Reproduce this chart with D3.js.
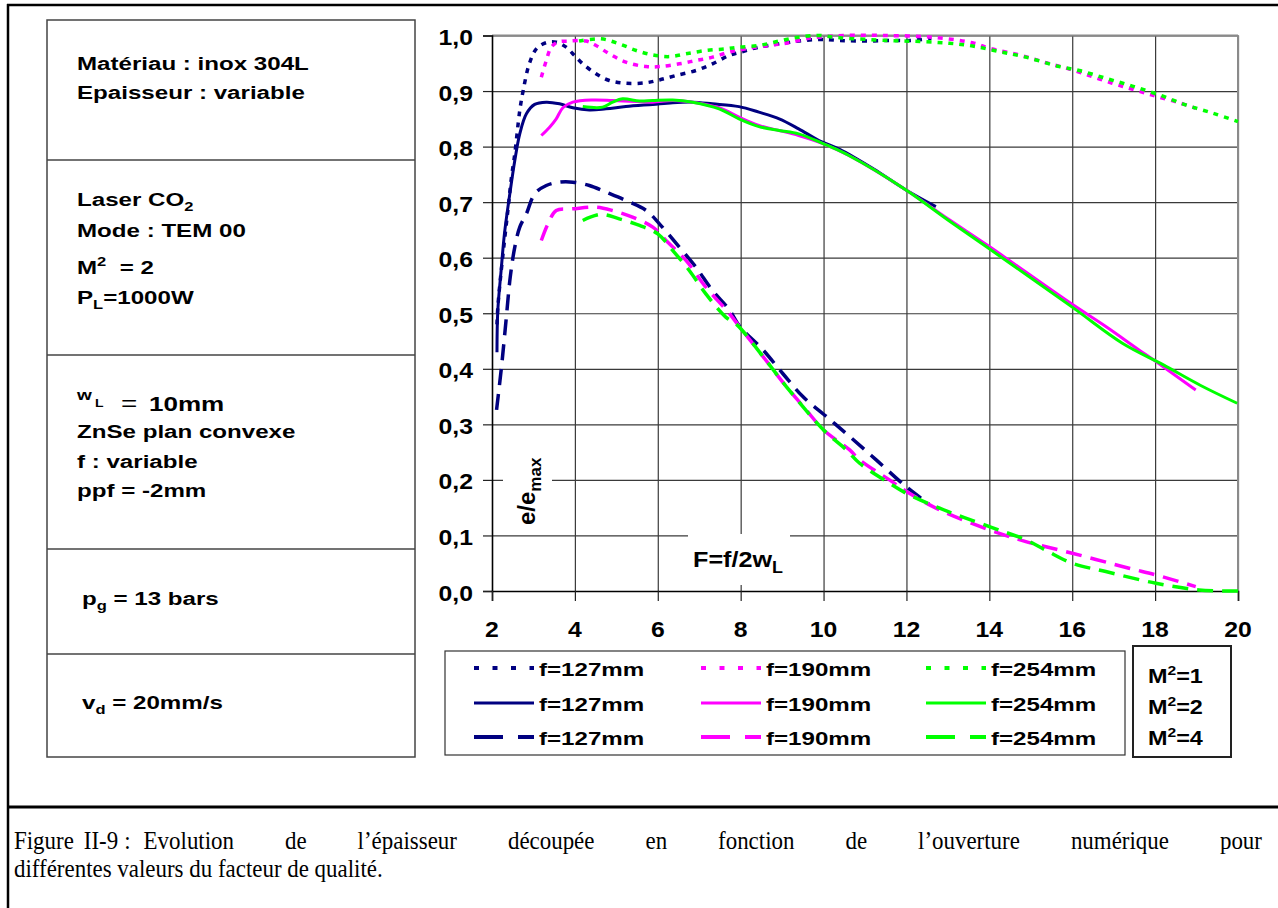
<!DOCTYPE html>
<html>
<head>
<meta charset="utf-8">
<script src="https://cdn.jsdelivr.net/npm/d3@7"></script>
<style>
  body { margin: 0; background: #fff; }
  text { white-space: pre; }
</style>
</head>
<body>
<svg id="chart"></svg>
<script>
// ---- data (F = f/2wL, e/emax) ----

const xTicks = [2, 4, 6, 8, 10, 12, 14, 16, 18, 20];
const yTicks = [0, 0.1, 0.2, 0.3, 0.4, 0.5, 0.6, 0.7, 0.8, 0.9, 1.0];

const focals = ["f=127mm", "f=190mm", "f=254mm"];
const qualities = ["1", "2", "4"];
const colors = ["#000080", "#ff00ff", "#00ff00"];

// M2 = 1 (dotted)
const m1f127 = [[2.12,0.48],[2.14,0.51],[2.2,0.56],[2.3,0.63],[2.39,0.69],[2.47,0.745],[2.55,0.787],[2.67,0.865],[2.75,0.90],[2.9,0.949],[3.07,0.976],[3.3,0.987],[3.55,0.988],[3.79,0.979],[3.99,0.964],[4.19,0.949],[4.51,0.931],[4.83,0.919],[5.23,0.914],[5.72,0.915],[6.04,0.92],[6.44,0.928],[6.92,0.937],[7.32,0.949],[7.72,0.964],[8.0,0.97],[8.44,0.979],[8.93,0.985],[9.4,0.99],[9.9,0.993],[10.4,0.991],[11.0,0.99],[11.6,0.991],[12.1,0.991],[12.6,0.995]];
const m1f190 = [[3.19,0.925],[3.31,0.955],[3.43,0.979],[3.59,0.988],[3.87,0.99],[4.27,0.99],[4.51,0.982],[4.83,0.967],[5.23,0.952],[5.72,0.944],[6.04,0.944],[6.52,0.949],[6.92,0.955],[7.32,0.961],[7.72,0.97],[8.12,0.976],[8.68,0.982],[9.09,0.986],[9.57,0.994],[9.89,0.997],[10.5,1.0],[11.5,1.0],[12.6,0.997],[13.59,0.987],[14.0,0.977],[14.72,0.965],[15.37,0.951],[16.0,0.938],[16.48,0.926],[16.97,0.914],[17.37,0.905],[17.78,0.896],[18.1,0.889],[18.58,0.879],[18.98,0.869]];
const m1f254 = [[4.1,0.99],[4.63,0.994],[5.07,0.985],[5.48,0.973],[5.88,0.965],[6.28,0.962],[6.68,0.967],[7.16,0.973],[7.64,0.976],[7.96,0.979],[8.44,0.982],[8.93,0.99],[9.4,0.997],[9.89,1.0],[10.39,0.996],[11.59,0.991],[12.39,0.989],[13.04,0.986],[13.6,0.981],[14.24,0.971],[14.88,0.961],[15.69,0.944],[16.17,0.937],[16.81,0.923],[17.45,0.909],[18.1,0.893],[18.74,0.875],[19.4,0.86],[20,0.845]];

// M2 = 2 (solid)
const m2f127 = [[2.12,0.43],[2.14,0.505],[2.22,0.577],[2.3,0.643],[2.43,0.715],[2.55,0.775],[2.67,0.823],[2.83,0.859],[3.03,0.876],[3.31,0.88],[3.63,0.877],[3.95,0.87],[4.35,0.866],[4.75,0.868],[5.23,0.872],[5.88,0.876],[6.36,0.879],[6.84,0.88],[7.32,0.877],[7.96,0.872],[8.44,0.862],[8.93,0.85],[9.4,0.832],[9.89,0.811],[10.39,0.795],[11.2,0.76],[11.99,0.722],[12.71,0.692]];
const m2f190 = [[3.19,0.82],[3.39,0.835],[3.55,0.85],[3.71,0.87],[3.95,0.88],[4.43,0.884],[4.91,0.883],[5.48,0.881],[5.88,0.88],[6.36,0.883],[6.84,0.88],[7.48,0.87],[7.96,0.853],[8.44,0.838],[8.93,0.829],[9.4,0.82],[10.0,0.805],[10.61,0.784],[11.99,0.722],[13.0,0.67],[14.0,0.62],[16.0,0.516],[16.81,0.476],[17.61,0.434],[18.02,0.413],[18.98,0.362]];
const m2f254 = [[4.19,0.872],[4.67,0.871],[4.91,0.88],[5.15,0.886],[5.56,0.882],[5.88,0.883],[6.36,0.884],[6.84,0.88],[7.48,0.868],[7.96,0.85],[8.44,0.836],[8.93,0.829],[9.4,0.823],[10.0,0.805],[10.61,0.784],[11.99,0.722],[13.0,0.668],[14.0,0.616],[16.0,0.511],[17.21,0.446],[18.2,0.407],[19.1,0.37],[19.98,0.338]];

// M2 = 4 (dashed)
const m4f127 = [[2.11,0.326],[2.23,0.404],[2.34,0.488],[2.44,0.565],[2.55,0.619],[2.67,0.655],[2.83,0.679],[3.03,0.715],[3.31,0.73],[3.63,0.736],[3.95,0.736],[4.35,0.73],[4.75,0.718],[5.23,0.703],[5.72,0.685],[6.04,0.661],[6.52,0.619],[6.92,0.583],[7.32,0.541],[7.72,0.507],[7.98,0.476],[8.54,0.434],[9.01,0.392],[9.5,0.35],[10.07,0.314],[10.6,0.28],[11.27,0.236],[11.99,0.188],[12.55,0.156]];
const m4f190 = [[3.19,0.631],[3.35,0.661],[3.55,0.685],[3.95,0.688],[4.51,0.691],[4.91,0.685],[5.39,0.673],[5.88,0.655],[6.2,0.631],[6.68,0.595],[7.16,0.547],[7.72,0.5],[7.98,0.475],[8.54,0.422],[9.1,0.368],[9.58,0.326],[10.0,0.29],[10.63,0.254],[10.87,0.236],[11.59,0.2],[12.07,0.176],[12.8,0.146],[14.0,0.11],[14.88,0.089],[16.0,0.068],[17.37,0.041],[18.02,0.029],[18.98,0.008]];
const m4f254 = [[4.19,0.667],[4.63,0.678],[5.07,0.67],[5.56,0.658],[6.0,0.643],[6.36,0.613],[6.76,0.577],[7.16,0.535],[7.64,0.493],[7.9,0.48],[8.54,0.422],[9.1,0.368],[10.0,0.29],[10.55,0.254],[10.87,0.23],[11.59,0.194],[11.99,0.176],[12.8,0.149],[14.0,0.116],[14.88,0.092],[15.37,0.073],[16.0,0.05],[16.81,0.035],[18.02,0.014],[19.06,0.002],[20,0.0]];

const seriesByM2 = [[m1f127, m1f190, m1f254], [m2f127, m2f190, m2f254], [m4f127, m4f190, m4f254]];

// line styles per M2 (chart / legend)
const dashChart = ["5,6", null, "16,9"];
const dashLegend = ["5,13.5", null, "29,15"];
const widthChart = [3.5, 3, 3.5];

const captionLabel = ["Figure", "II-9", ":"];
const caption1 = "Evolution de l’épaisseur découpée en fonction de l’ouverture numérique pour";
const caption2 = "différentes valeurs du facteur de qualité.";

// ---- page ----

const W = 1278, H = 908;
const svg = d3.select("#chart").attr("width", W).attr("height", H);
const SANS = "'Liberation Sans', Arial, sans-serif";

// text with horizontal stretch, parts: string or [string, shift, size, weight]
function rich(parent, x, y, parts, size, sx, anchor) {
  const t = parent.append("text")
      .attr("transform", `translate(${x},${y}) scale(${sx},1)`)
      .attr("font-family", SANS)
      .attr("font-size", size)
      .attr("font-weight", "bold")
      .attr("text-anchor", anchor || "start");
  let cur = 0;
  parts.forEach(p => {
    const [s, shift, fs, fw] = typeof p === "string" ? [p, 0, size, "bold"] : p;
    t.append("tspan").attr("dy", shift - cur).attr("font-size", fs || size)
      .attr("font-weight", fw || "bold").text(s);
    cur = shift;
  });
  return t;
}

// outer frame
svg.append("line").attr("x1", 8).attr("x2", 8).attr("y1", 4).attr("y2", H).attr("stroke", "#000").attr("stroke-width", 2.5);
svg.append("line").attr("x1", 7).attr("x2", W).attr("y1", 5).attr("y2", 5).attr("stroke", "#000").attr("stroke-width", 2.5);
svg.append("line").attr("x1", 7).attr("x2", W).attr("y1", 807).attr("y2", 807).attr("stroke", "#000").attr("stroke-width", 3);

// left info table
const panel = svg.append("g");
const rows = [20, 160, 355, 549, 654, 757];
panel.append("rect").attr("x", 47).attr("y", 20).attr("width", 368).attr("height", 737)
    .attr("fill", "none").attr("stroke", "#444").attr("stroke-width", 1.5);
rows.slice(1, -1).forEach(r => panel.append("line").attr("x1", 47).attr("x2", 415)
    .attr("y1", r).attr("y2", r).attr("stroke", "#444").attr("stroke-width", 1.5));

const PS = 19, PX = 1.27;
rich(panel, 77, 70, ["Matériau : inox 304L"], PS, PX);
rich(panel, 77, 99, ["Epaisseur : variable"], PS, PX);
rich(panel, 77, 206, ["Laser CO", ["2", 5, 13]], PS, PX);
rich(panel, 77, 237, ["Mode : TEM 00"], PS, PX);
rich(panel, 77, 274, ["M", ["2", -8, 13], ["  = 2", 0]], PS, PX);
rich(panel, 77, 304, ["P", ["L", 5, 13], ["=1000W", 0]], PS, PX);
rich(panel, 77, 400, ["w"], 15, PX);
rich(panel, 95, 407, ["L"], 11, PX);
rich(panel, 121, 411, [["=", 0, 22, "normal"]], 22, PX);
rich(panel, 149, 411, ["10mm"], 20.5, PX);
rich(panel, 77, 438, ["ZnSe plan convexe"], PS, PX);
rich(panel, 77, 468, ["f : variable"], PS, PX);
rich(panel, 77, 497, ["ppf = -2mm"], PS, PX);
rich(panel, 82, 605, ["p", ["g", 5, 13], [" = 13 bars", 0]], PS, PX);
rich(panel, 82, 709, ["v", ["d", 5, 13], [" = 20mm/s", 0]], PS, PX);

// ---- chart ----

const x = d3.scaleLinear().domain([2, 20]).range([492, 1238]);
const y = d3.scaleLinear().domain([0, 1]).range([591, 35.5]);

const grid = svg.append("g");
grid.append("g").attr("transform", `translate(0,${y(0)})`)
    .call(d3.axisBottom(x).tickValues(xTicks.slice(1)).tickSize(-(y(0) - y(1))).tickFormat(""))
    .call(g => g.select(".domain").remove())
    .call(g => g.selectAll("line").attr("stroke", "#3a3a3a").attr("stroke-width", 1.2));
grid.append("g").attr("transform", `translate(${x(2)},0)`)
    .call(d3.axisLeft(y).tickValues(yTicks.slice(1)).tickSize(-(x(20) - x(2))).tickFormat(""))
    .call(g => g.select(".domain").remove())
    .call(g => g.selectAll("line").attr("stroke", "#3a3a3a").attr("stroke-width", 1.2));
// plot border top / right in grey
grid.append("line").attr("x1", x(2)).attr("x2", x(20)).attr("y1", y(1)).attr("y2", y(1)).attr("stroke", "#8a8a8a").attr("stroke-width", 2);
grid.append("line").attr("x1", x(20)).attr("x2", x(20)).attr("y1", y(1)).attr("y2", y(0)).attr("stroke", "#8a8a8a").attr("stroke-width", 2);

// axes
const fmt = d => d3.format(".1f")(d).replace(".", ",");
const yAxis = svg.append("g").attr("transform", `translate(${x(2)},0)`)
    .call(d3.axisLeft(y).tickValues(yTicks).tickSize(9).tickFormat(""));
yAxis.selectAll("line").attr("stroke", "#222").attr("stroke-width", 1.2);
yAxis.select(".domain").attr("stroke", "#000").attr("stroke-width", 1.6);
const xAxis = svg.append("g").attr("transform", `translate(0,${y(0)})`)
    .call(d3.axisBottom(x).tickValues(xTicks).tickSize(10).tickFormat(""));
xAxis.selectAll("line").attr("stroke", "#222").attr("stroke-width", 1.2);
xAxis.select(".domain").attr("stroke", "#000").attr("stroke-width", 1.6);

yTicks.forEach(v => rich(svg, 473, y(v) + 9.5, [fmt(v)], 22.5, 1.1, "end"));
xTicks.forEach(v => rich(svg, x(v), 637, [String(v)], 22.5, 1.1, "middle"));

// axis titles on white patches
svg.append("rect").attr("x", 503).attr("y", 432).attr("width", 49).attr("height", 98).attr("fill", "#fff");
svg.append("text").attr("transform", "translate(535,525) rotate(-90)")
    .attr("font-family", SANS).attr("font-weight", "bold").attr("font-size", 24)
    .call(t => {
      t.append("tspan").text("e/e");
      t.append("tspan").attr("dy", 6).attr("font-size", 17).text("max");
    });
svg.append("rect").attr("x", 688).attr("y", 534).attr("width", 102).attr("height", 51).attr("fill", "#fff");
rich(svg, 693, 567, ["F=f/2w", ["L", 6, 16]], 22.5, 1.12);

// curves
const line = d3.line().x(d => x(d[0])).y(d => y(d[1])).curve(d3.curveCatmullRom.alpha(0.5));
const curves = svg.append("g").attr("fill", "none").attr("stroke-linecap", "butt");
seriesByM2.forEach((grp, m) => {
  grp.forEach((s, k) => {
    curves.append("path").datum(s)
        .attr("d", line)
        .attr("stroke", colors[k])
        .attr("stroke-width", widthChart[m])
        .attr("stroke-dasharray", dashChart[m]);
  });
});

// legend
const leg = svg.append("g");
leg.append("rect").attr("x", 445).attr("y", 651).attr("width", 680).attr("height", 104)
    .attr("fill", "#fff").attr("stroke", "#333").attr("stroke-width", 1.2);
const legCols = [474, 701, 926];
const legRows = [668, 703, 737];
qualities.forEach((q, m) => {
  focals.forEach((f, k) => {
    leg.append("line").attr("x1", legCols[k]).attr("x2", legCols[k] + 60)
        .attr("y1", legRows[m]).attr("y2", legRows[m])
        .attr("stroke", colors[k]).attr("stroke-width", m === 1 ? 3 : 4)
        .attr("stroke-dasharray", dashLegend[m]);
    rich(leg, legCols[k] + 65, legRows[m] + 8, [f], 19, 1.27);
  });
});

leg.append("rect").attr("x", 1133).attr("y", 646).attr("width", 98).attr("height", 111)
    .attr("fill", "#fff").attr("stroke", "#222").attr("stroke-width", 2);
const m2Base = [683, 714, 745];
qualities.forEach((q, m) => rich(leg, 1148, m2Base[m], ["M", ["2", -8, 13], ["=" + q, 0]], 19.5, 1.2));

// caption: narrow serif; label words keep fixed gaps, the rest is justified
const SERIF = "'Liberation Serif', 'Times New Roman', serif";
const capL = 14, capR = 1262, cap2R = 383, capFS = 26;
const cap = svg.append("g");
const cap2 = cap.append("text").attr("font-family", SERIF).attr("font-size", capFS).text(caption2);
const cx = (cap2R - capL) / cap2.node().getComputedTextLength();
cap2.attr("transform", `translate(${capL},877) scale(${cx},1)`);

function word(s, xPos) {
  const t = cap.append("text").attr("font-family", SERIF).attr("font-size", capFS)
      .attr("transform", `translate(${xPos},849) scale(${cx},1)`).text(s);
  return t.node().getComputedTextLength() * cx;
}
let px = capL;
captionLabel.forEach((s, i) => { px += word(s, px) + [10, 6, 13][i]; });
const words = caption1.split(" ");
const tmp = words.map(s => { const t = cap.append("text").attr("font-family", SERIF).attr("font-size", capFS).text(s);
  const w = t.node().getComputedTextLength() * cx; t.remove(); return w; });
const gap = (capR - px - d3.sum(tmp)) / (words.length - 1);
words.forEach((s, i) => { word(s, px); px += tmp[i] + gap; });
</script>
</body>
</html>
